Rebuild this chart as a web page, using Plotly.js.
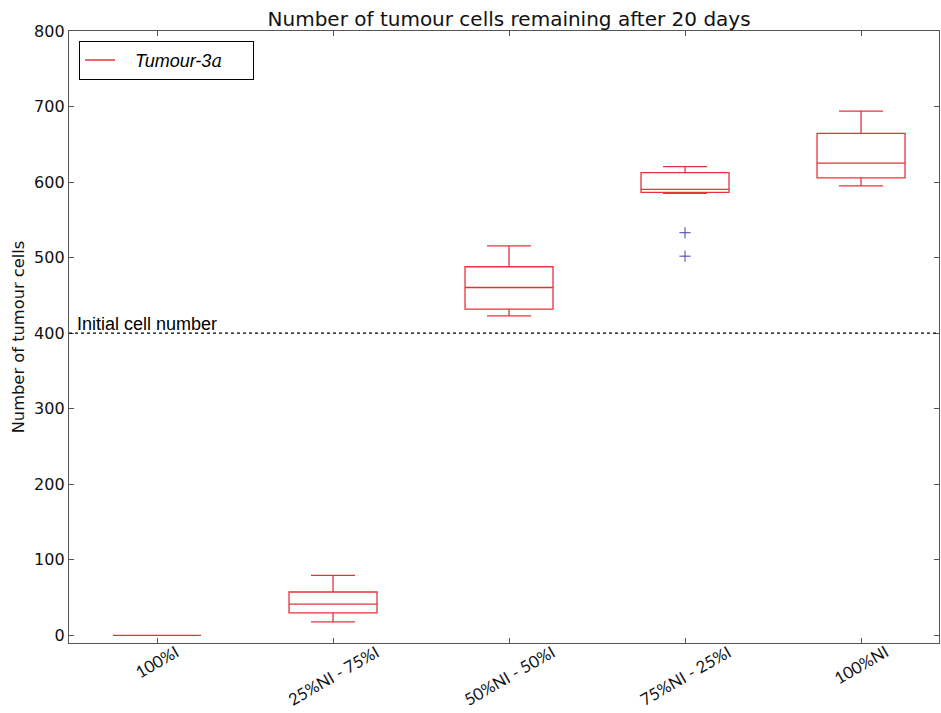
<!DOCTYPE html>
<html><head><meta charset="utf-8">
<script src="https://cdn.plot.ly/plotly-3.0.1.min.js"></script>
<style>body{margin:0;background:#fff}#c{width:941px;height:713px}</style>
</head><body><div id="c"></div>
<script>
const categories = ["100%I", "25%NI - 75%I", "50%NI - 50%I", "75%NI - 25%I", "100%NI"];
const lowerWhisker = [0, 18, 423, 585, 595];
const q1 = [0, 30, 432, 586.5, 605.5];
const median = [0, 41.5, 460.5, 590.5, 625];
const q3 = [0, 57.5, 488, 612.5, 664.5];
const upperWhisker = [0, 79.5, 515.5, 620.5, 694];
const outlierCats = ["75%NI - 25%I", "75%NI - 25%I"];
const outlierVals = [533, 502];
const initialCells = 400;
const yTicks = [0, 100, 200, 300, 400, 500, 600, 700, 800];

const red = "#e8323a";
const traces = [
  {
    type: "box", x: categories, q1: q1, median: median, q3: q3,
    lowerfence: lowerWhisker, upperfence: upperWhisker,
    line: {color: red, width: 1.3}, fillcolor: "rgba(0,0,0,0)",
    width: 0.5, whiskerwidth: 0.5, boxpoints: false, showlegend: false,
    hoverinfo: "skip"
  },
  {
    type: "scatter", mode: "markers", x: outlierCats, y: outlierVals,
    marker: {symbol: "cross-thin-open", size: 8, color: "#4040b0", line: {color: "#4040b0", width: 1}},
    showlegend: false
  },
  {
    type: "scatter", mode: "lines", x: [null], y: [null],
    line: {color: red, width: 1.3},
    name: "&nbsp;&nbsp;&nbsp;Tumour-3<span style=\"font-family:'DejaVu Serif'\">a</span>&nbsp;&nbsp;&nbsp;&nbsp;&nbsp;"
  }
];

const tickAnnotations = categories.map(c => ({
  xref: "x", x: c, yref: "paper", y: 0.004, xanchor: "center", yanchor: "top",
  text: c, textangle: -30, showarrow: false, borderpad: 0,
  font: {size: 16.5, color: "#111", family: "Lato, Open Sans, sans-serif"}
}));

const layout = {
  width: 941, height: 713,
  margin: {l: 69, r: 2, t: 31, b: 70},
  paper_bgcolor: "#fff", plot_bgcolor: "#fff",
  font: {family: "DejaVu Sans, sans-serif", color: "#111", size: 16},
  title: {text: "Number of tumour cells remaining after 20 days", font: {size: 20},
          x: 0.541, xanchor: "center", y: 0.973, yanchor: "middle"},
  xaxis: {
    type: "category", range: [-0.5, 4.443], showticklabels: false,
    showline: true, linecolor: "#555", linewidth: 1.3, mirror: "ticks",
    ticks: "inside", ticklen: 5, tickcolor: "#555", showgrid: false, zeroline: false
  },
  yaxis: {
    range: [-10, 800], tickvals: yTicks, automargin: false,
    showline: true, linecolor: "#555", linewidth: 1.3, mirror: "ticks",
    ticks: "inside", ticklen: 5, tickcolor: "#555", showgrid: false, zeroline: false,
    title: {text: "Number of tumour cells", font: {size: 16.3}, standoff: 5},
    tickfont: {size: 16}
  },
  showlegend: true,
  legend: {x: 0.0115, y: 0.984, xanchor: "left", yanchor: "top",
           bordercolor: "#000", borderwidth: 1, bgcolor: "#fff",
           font: {size: 18, style: "italic", family: "Liberation Sans, Arial, sans-serif", color: "#000"}},
  shapes: [{type: "line", xref: "paper", x0: 0, x1: 1, yref: "y", y0: initialCells, y1: initialCells,
            line: {color: "#000", width: 1.2, dash: "dot"}}],
  annotations: [{xref: "paper", x: 0.007, yref: "y", y: initialCells, yanchor: "bottom", xanchor: "left",
                 text: "Initial cell number", showarrow: false,
                 font: {size: 18, color: "#000", family: "Liberation Sans, Arial, sans-serif"}, yshift: -3}]
    .concat(tickAnnotations)
};
Plotly.newPlot("c", traces, layout, {displayModeBar: false});
</script></body></html>
